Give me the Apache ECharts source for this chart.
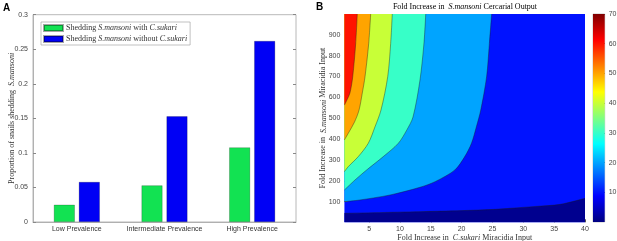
<!DOCTYPE html>
<html>
<head>
<meta charset="utf-8">
<script src="https://cdn.jsdelivr.net/npm/echarts@6/dist/echarts.min.js"></script>
<style>
  html, body { margin: 0; padding: 0; background: #fff; }
  #chart { width: 617px; height: 241px; }
</style>
</head>
<body>
<div id="chart"></div>
<script>
  // panel A data
  let prevalence = ['Low Prevalence', 'Intermediate Prevalence', 'High Prevalence'];
  let withSukari = [0.025, 0.053, 0.108];
  let withoutSukari = [0.058, 0.153, 0.262];

  // panel B tick labels
  let xTicksB = [5, 10, 15, 20, 25, 30, 35, 40];
  let yTicksB = [100, 200, 300, 400, 500, 600, 700, 800, 900];
  let cbTicks = [10, 20, 30, 40, 50, 60, 70];

  // contour boundaries, [C.sukari fold, S.mansoni fold]
  let level10 = [[1, 44], [13.25, 52], [20, 57], [25.4, 63], [27.8, 68], [32, 77], [36, 87], [40, 116]];
  let level20 = [[1, 100], [3.5, 108], [8.4, 132], [13.25, 169], [15.7, 196], [18.9, 252], [20.5, 316], [21.6, 380], [22.4, 460], [23.1, 539], [24.05, 699], [24.5, 859], [24.87, 1000]];
  let level30 = [[1, 156], [2.72, 204], [4.61, 252], [7.3, 316], [9.74, 380], [11.1, 443], [12.12, 506], [13.25, 683], [13.9, 861], [14.18, 1000]];
  let level40 = [[1, 244], [1.63, 268], [3.25, 316], [4.87, 380], [5.96, 459], [6.93, 539], [8.02, 699], [8.5, 859], [8.76, 1000]];
  let level50 = [[1, 396], [1.63, 428], [2.64, 482], [3.37, 539], [3.9, 621], [4.34, 699], [4.94, 859], [5.26, 1000]];
  let level60 = [[1, 563], [1.45, 590], [1.9, 621], [2.35, 699], [2.83, 859], [3.09, 1000]];

  let myChart = echarts.init(document.getElementById('chart'));

  let serif = 'Liberation Serif';
  let sans = 'Liberation Sans';
  let rich = {
    n: { fontFamily: serif, fontSize: 8, color: '#333' },
    i: { fontFamily: serif, fontSize: 8, fontStyle: 'italic', color: '#333' }
  };

  let contourLine = { color: '#1d1d1d', width: 0.5, opacity: 0.8 };
  function contour(name, data, color, origin) {
    return {
      name: name,
      type: 'line',
      xAxisIndex: 1,
      yAxisIndex: 3,
      data: data,
      smooth: 0.3,
      symbol: 'none',
      silent: true,
      lineStyle: contourLine,
      areaStyle: { color: color, opacity: 1, origin: origin }
    };
  }

  let jet = new echarts.graphic.LinearGradient(0, 1, 0, 0, [
    { offset: 0, color: '#000080' },
    { offset: 0.125, color: '#0000ff' },
    { offset: 0.375, color: '#00ffff' },
    { offset: 0.625, color: '#ffff00' },
    { offset: 0.875, color: '#ff0000' },
    { offset: 1, color: '#800000' }
  ]);

  let option = {
    animation: false,
    textStyle: { fontFamily: sans },
    graphic: [
      { type: 'text', left: 3, top: 3, style: { text: 'A', font: 'bold 10px Liberation Sans', fill: '#000' } },
      { type: 'text', left: 316, top: 2, style: { text: 'B', font: 'bold 10px Liberation Sans', fill: '#000' } },
      {
        type: 'text', x: 465, y: 3,
        style: {
          text: '{n|Fold Increase in  }{i|S.mansoni}{n| Cercarial Output}',
          rich: rich, align: 'center'
        }
      }
    ],
    legend: {
      data: ['with', 'without'],
      orient: 'vertical',
      left: 41,
      top: 22,
      padding: [2, 3, 2, 2],
      itemWidth: 19,
      itemHeight: 6,
      itemGap: 3,
      icon: 'rect',
      backgroundColor: '#fff',
      borderColor: '#999',
      borderWidth: 0.6,
      borderRadius: 0,
      formatter: function (name) {
        return name === 'with'
          ? '{n|Shedding }{i|S.mansoni}{n| with }{i|C.sukari}'
          : '{n|Shedding }{i|S.mansoni}{n| without }{i|C.sukari}';
      },
      textStyle: { rich: rich, padding: [0, 0, 0, -2] }
    },
    grid: [
      { left: 33, top: 14.7, width: 263, height: 207.3, outerBoundsMode: 'none', show: true, borderColor: '#a6a6a6', borderWidth: 0.8, backgroundColor: '#fff' },
      { left: 344.4, top: 14, width: 240.6, height: 208.3, outerBoundsMode: 'none', show: true, borderWidth: 0, backgroundColor: '#0012ff' },
      { left: 593, top: 14, width: 11.7, height: 208, outerBoundsMode: 'none', show: true, borderColor: '#a6a6a6', borderWidth: 0.6 }
    ],
    xAxis: [
      {
        gridIndex: 0,
        type: 'category',
        data: prevalence,
        axisLine: { lineStyle: { color: '#a6a6a6', width: 0.8 } },
        axisTick: { inside: true, alignWithLabel: true, length: 3, lineStyle: { color: '#888' } },
        axisLabel: { interval: 0, fontFamily: sans, fontSize: 7, color: '#333', margin: 4 }
      },
      {
        gridIndex: 1,
        type: 'value',
        min: 1,
        max: 40,
        axisLine: { show: false },
        axisTick: { inside: true, length: 3, customValues: xTicksB, lineStyle: { color: '#555' } },
        axisLabel: { customValues: xTicksB, fontFamily: sans, fontSize: 7, color: '#444', margin: 3 },
        splitLine: { show: false },
        name: '{n|Fold Increase in  }{i|C.sukari}{n| Miracidia Input}',
        nameLocation: 'middle',
        nameGap: 12,
        nameMoveOverlap: false,
        nameTextStyle: { rich: rich }
      },
      {
        gridIndex: 2,
        type: 'category',
        data: ['cb'],
        show: false
      }
    ],
    yAxis: [
      {
        gridIndex: 0,
        type: 'value',
        min: 0,
        max: 0.3,
        interval: 0.05,
        axisLine: { show: true, lineStyle: { color: '#a6a6a6', width: 0.8 } },
        axisTick: { show: true, inside: true, length: 3, lineStyle: { color: '#888' } },
        axisLabel: { fontFamily: sans, fontSize: 7, color: '#444', margin: 5 },
        splitLine: { show: false },
        name: '{n|Proportion of snails shedding  }{i|S.mansoni}',
        nameLocation: 'middle',
        nameGap: 17,
        nameMoveOverlap: false,
        nameTextStyle: { rich: rich }
      },
      {
        gridIndex: 0,
        type: 'value',
        position: 'right',
        min: 0,
        max: 0.3,
        interval: 0.05,
        axisLine: { show: false },
        axisTick: { show: true, inside: true, length: 3, lineStyle: { color: '#888' } },
        axisLabel: { show: false },
        splitLine: { show: false }
      },
      {
        gridIndex: 2,
        type: 'value',
        position: 'right',
        min: 0,
        max: 70,
        axisLine: { show: false },
        axisTick: { show: true, inside: true, length: 2, customValues: cbTicks, lineStyle: { color: '#555' } },
        axisLabel: { customValues: cbTicks, fontFamily: sans, fontSize: 7, color: '#444', margin: 4 },
        splitLine: { show: false }
      },
      {
        gridIndex: 1,
        type: 'value',
        min: 1,
        max: 1000,
        axisLine: { show: false },
        axisTick: { show: true, inside: true, length: 3, customValues: yTicksB, lineStyle: { color: '#555' } },
        axisLabel: { customValues: yTicksB, fontFamily: sans, fontSize: 7, color: '#444', margin: 4 },
        splitLine: { show: false },
        name: '{n|Fold Increase in  }{i|S.mansoni}{n| Miracidia Input}',
        nameLocation: 'middle',
        nameGap: 17,
        nameMoveOverlap: false,
        nameTextStyle: { rich: rich }
      }
    ],
    series: [
      {
        name: 'with',
        type: 'bar',
        xAxisIndex: 0,
        yAxisIndex: 0,
        data: withSukari,
        barWidth: 21,
        barGap: '19%',
        itemStyle: { color: '#12e252', borderColor: 'rgba(0,0,0,0.35)', borderWidth: 0.6 }
      },
      {
        name: 'without',
        type: 'bar',
        xAxisIndex: 0,
        yAxisIndex: 0,
        data: withoutSukari,
        barWidth: 21,
        itemStyle: { color: '#0000f5', borderColor: 'rgba(0,0,0,0.35)', borderWidth: 0.6 }
      },
      contour('0-10', level10, '#00008f', 'start'),
      contour('20-30', level20, '#00a4ff', 'end'),
      contour('30-40', level30, '#37ffc8', 'end'),
      contour('40-50', level40, '#c8ff37', 'end'),
      contour('50-60', level50, '#ffa400', 'end'),
      contour('60-70', level60, '#ff1200', 'end'),
      {
        name: 'colorbar',
        type: 'bar',
        xAxisIndex: 2,
        yAxisIndex: 2,
        data: [70],
        barWidth: '100%',
        silent: true,
        itemStyle: { color: jet }
      }
    ]
  };
  myChart.setOption(option);
</script>
</body>
</html>
